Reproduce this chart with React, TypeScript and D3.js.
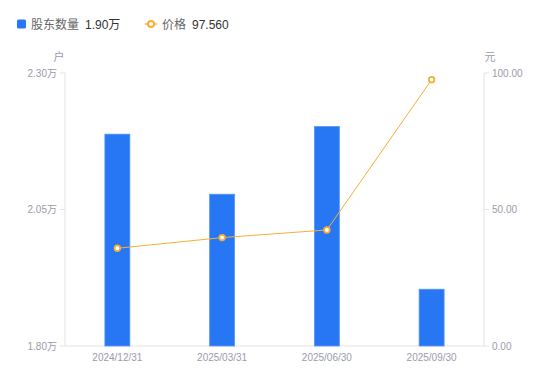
import React from "react";
import * as d3 from "d3";

const categories = ["2024/12/31", "2025/03/31", "2025/06/30", "2025/09/30"];
const holders = [2.188, 2.078, 2.202, 1.904]; // 万户
const prices = [35.8, 39.7, 42.5, 97.56]; // 元
const leftTicks = [1.8, 2.05, 2.3];
const rightTicks = [0, 50, 100];

const W = 550;
const H = 381;
const M = { left: 65, right: 484, top: 73, bottom: 346 };

export default function App() {
  const x = d3.scaleBand<string>().domain(categories).range([M.left, M.right]);
  const yL = d3.scaleLinear().domain([1.8, 2.3]).range([M.bottom, M.top]);
  const yR = d3.scaleLinear().domain([0, 100]).range([M.bottom, M.top]);
  const barW = 25;
  const line = d3
    .line<number>()
    .x((_, i) => (x(categories[i]) as number) + x.bandwidth() / 2)
    .y((d) => yR(d));
  const axisColor = "#e3e3e8";
  const labelColor = "#9b9bab";
  const font = "'Helvetica Neue', Arial, 'Liberation Sans', 'Noto Sans CJK SC', sans-serif";
  const orange = "#f7ae35";
  const blue = "#2777f5";
  return (
    <svg width={W} height={H} style={{ position: "absolute", left: 0, top: 0 }} fontFamily={font}>
      {/* legend */}
      <rect x={17} y={19.5} width={9} height={9} rx={1.5} fill={blue} />
      <text x={31} y={28.5} fontSize={12} fill="#666">股东数量</text>
      <text x={85} y={28.5} fontSize={12} fill="#333">1.90万</text>
      <line x1={145} x2={157} y1={24} y2={24} stroke={orange} strokeWidth={1.5} />
      <circle cx={151} cy={24} r={3} fill="#fff" stroke={orange} strokeWidth={2} />
      <text x={162} y={28.5} fontSize={12} fill="#666">价格</text>
      <text x={192} y={28.5} fontSize={12} fill="#333">97.560</text>

      {/* unit labels */}
      <text x={59} y={61} fontSize={11} fill={labelColor} textAnchor="middle">户</text>
      <text x={490} y={61} fontSize={11} fill={labelColor} textAnchor="middle">元</text>

      {/* axes */}
      <line x1={M.left} x2={M.left} y1={M.top} y2={M.bottom} stroke={axisColor} />
      <line x1={M.right} x2={M.right} y1={M.top} y2={M.bottom} stroke={axisColor} />
      <line x1={M.left} x2={M.right} y1={M.bottom} y2={M.bottom} stroke={axisColor} />
      {leftTicks.map((t) => (
        <g key={"l" + t}>
          <line x1={M.left - 5} x2={M.left} y1={yL(t)} y2={yL(t)} stroke={axisColor} />
          <text x={M.left - 8} y={yL(t)} dy="0.35em" fontSize={10} fill={labelColor} textAnchor="end">
            {t.toFixed(2)}万
          </text>
        </g>
      ))}
      {rightTicks.map((t) => (
        <g key={"r" + t}>
          <line x1={M.right} x2={M.right + 5} y1={yR(t)} y2={yR(t)} stroke={axisColor} />
          <text x={M.right + 8} y={yR(t)} dy="0.35em" fontSize={10} fill={labelColor} textAnchor="start">
            {t.toFixed(2)}
          </text>
        </g>
      ))}
      {categories.map((c) => (
        <text
          key={c}
          x={(x(c) as number) + x.bandwidth() / 2}
          y={361}
          fontSize={10}
          fill={labelColor}
          textAnchor="middle"
        >
          {c}
        </text>
      ))}

      {/* bars */}
      {holders.map((v, i) => {
        const cx = (x(categories[i]) as number) + x.bandwidth() / 2;
        return (
          <rect
            key={i}
            x={cx - barW / 2}
            y={yL(v)}
            width={barW}
            height={M.bottom - yL(v)}
            fill={blue}
            stroke="#5a97f7"
            strokeWidth={0.8}
          />
        );
      })}

      {/* line */}
      <path d={line(prices) || ""} fill="none" stroke={orange} strokeWidth={1} />
      {prices.map((v, i) => (
        <circle
          key={i}
          cx={(x(categories[i]) as number) + x.bandwidth() / 2}
          cy={yR(v)}
          r={2.8}
          fill="#fff"
          stroke={orange}
          strokeWidth={1.8}
        />
      ))}
    </svg>
  );
}
